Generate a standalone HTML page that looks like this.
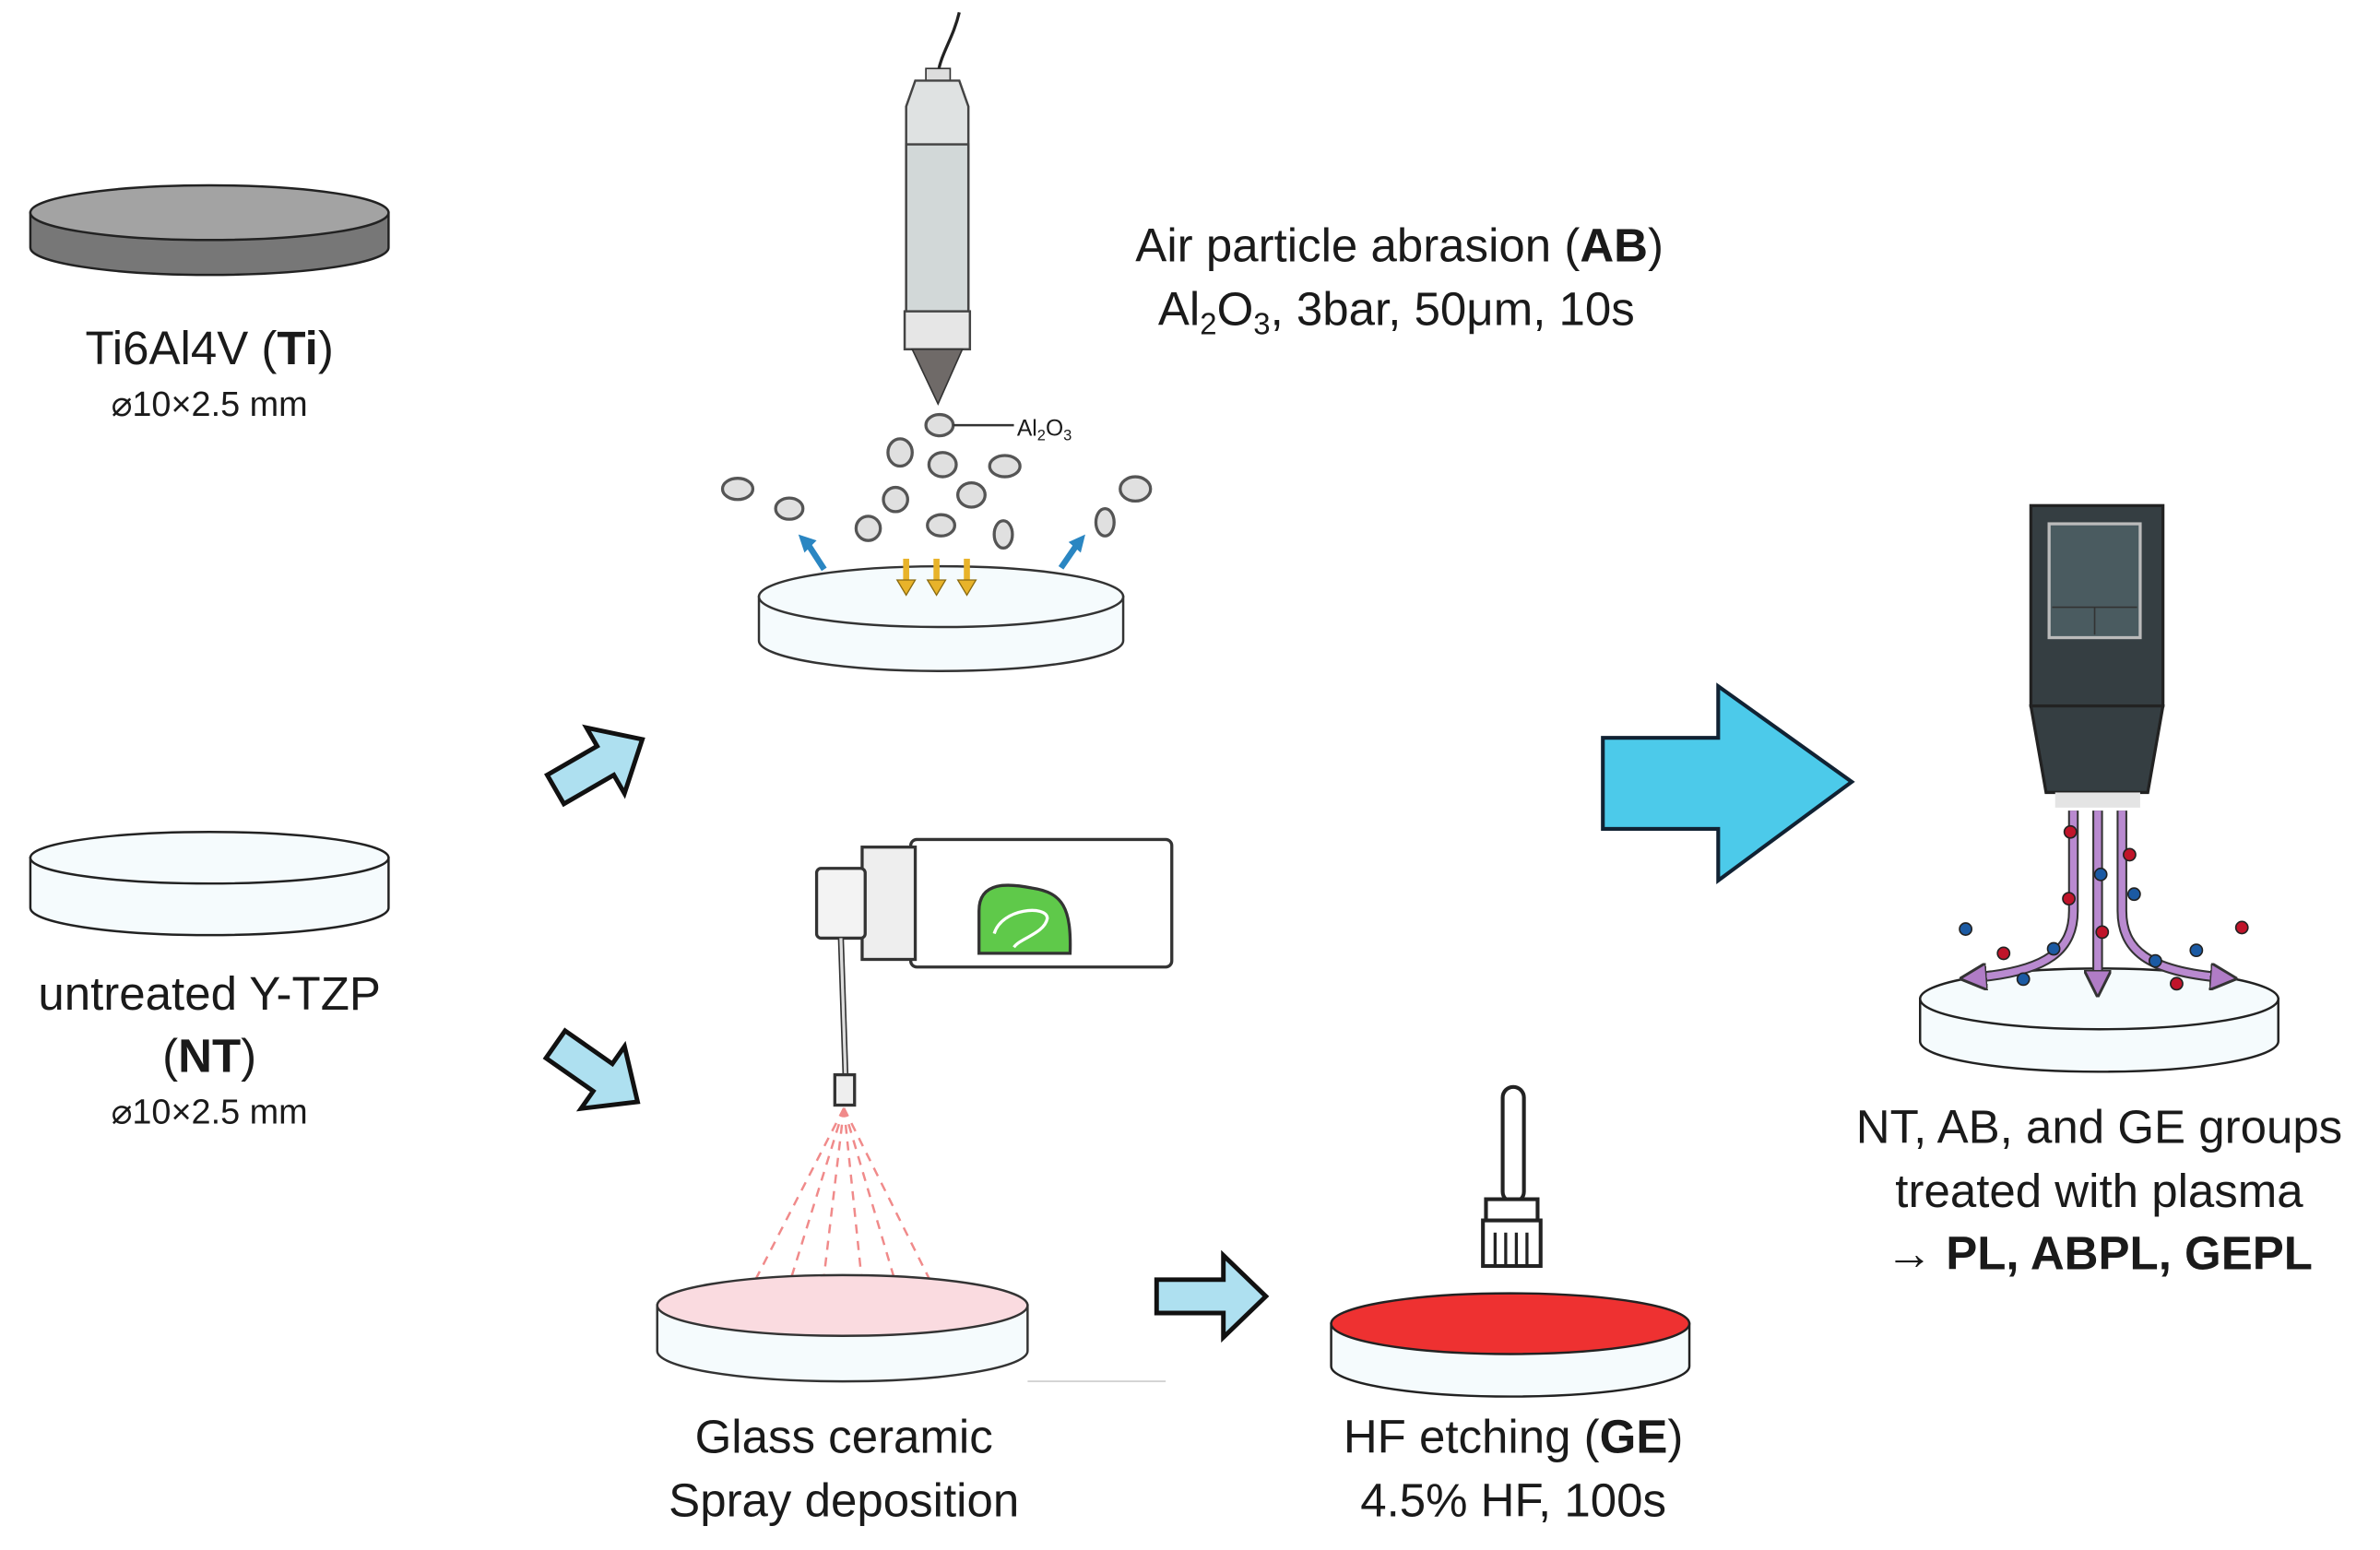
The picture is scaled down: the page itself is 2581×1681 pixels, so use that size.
<!DOCTYPE html>
<html><head><meta charset="utf-8"><style>
html,body{margin:0;padding:0;background:#fff;}
svg{display:block;}
text{font-family:"Liberation Sans","DejaVu Sans",sans-serif;fill:#1a1a1a;}
</style></head><body>
<svg width="2581" height="1681" viewBox="0 0 1568 1021" xmlns="http://www.w3.org/2000/svg">
<defs>
<marker id="ah" viewBox="0 0 10 10" refX="5" refY="5" markerWidth="4" markerHeight="4" orient="auto"><path d="M0,0 L10,5 L0,10 z" fill="#b07cc6" stroke="#333" stroke-width="1"/></marker>
</defs>
<!-- Ti disk -->
<path d="M20,140 L20,163 A118,18 0 0 0 256,163 L256,140 Z" fill="#777" stroke="#222" stroke-width="1.5"/>
<ellipse cx="138" cy="140" rx="118" ry="18" fill="#a3a3a3" stroke="#222" stroke-width="1.5"/>
<text x="138" y="240" font-size="31" text-anchor="middle">Ti6Al4V (<tspan font-weight="bold">Ti</tspan>)</text>
<text x="138" y="274" font-size="23" text-anchor="middle">⌀10×2.5 mm</text>
<!-- NT disk -->
<path d="M20,565 L20,598 A118,18 0 0 0 256,598 L256,565 Z" fill="#f5fbfd" stroke="#222" stroke-width="1.5"/>
<ellipse cx="138" cy="565" rx="118" ry="17" fill="#f5fbfd" stroke="#222" stroke-width="1.5"/>
<text x="138" y="665" font-size="31" text-anchor="middle">untreated Y-TZP</text>
<text x="138" y="706" font-size="31" text-anchor="middle">(<tspan font-weight="bold">NT</tspan>)</text>
<text x="138" y="740" font-size="23" text-anchor="middle">⌀10×2.5 mm</text>
<!-- small arrows -->
<g fill="#aee0f0" stroke="#111" stroke-width="3" stroke-linejoin="miter">
<path d="M0,-11 L38,-11 L38,-25 L66,0 L38,25 L38,11 L0,11 Z" transform="translate(366,520) rotate(-30)"/>
<path d="M0,-11 L38,-11 L38,-25 L66,0 L38,25 L38,11 L0,11 Z" transform="translate(366,688) rotate(35)"/>
<path d="M0,-11 L44,-11 L44,-27 L72,0 L44,27 L44,11 L0,11 Z" transform="translate(762,854)"/>
</g>
<!-- big arrow -->
<path d="M1056,486 L1132,486 L1132,452 L1220,515 L1132,580 L1132,546 L1056,546 Z" fill="#4ccaea" stroke="#123" stroke-width="2.5"/>
<!-- AB pen -->
<path d="M632,8 C628,25 620,35 618,48" fill="none" stroke="#222" stroke-width="2"/>
<rect x="610" y="45" width="16" height="8" fill="#ddd" stroke="#333"/>
<path d="M603,53 L632,53 L638,70 L638,210 L597,210 L597,70 Z" fill="#dfe2e2" stroke="#444" stroke-width="1.5"/>
<rect x="597" y="95" width="41" height="112" fill="#d2d8d8" stroke="#444" stroke-width="1.5"/>
<rect x="596" y="205" width="43" height="25" fill="#e6e6e6" stroke="#444" stroke-width="1.5"/>
<path d="M601,230 L634,230 L618,266 Z" fill="#6f6a68" stroke="#333"/>
<path d="M500,393 L500,422 A120,20 0 0 0 740,422 L740,393 Z" fill="#f5fbfd" stroke="#333" stroke-width="1.5"/>
<ellipse cx="620" cy="393" rx="120" ry="20" fill="#f5fbfd" stroke="#333" stroke-width="1.5"/>
<g fill="#e0e0e0" stroke="#555" stroke-width="2">
<ellipse cx="619" cy="280" rx="9" ry="7"/>
<ellipse cx="593" cy="298" rx="8" ry="9"/><ellipse cx="621" cy="306" rx="9" ry="8"/><ellipse cx="662" cy="307" rx="10" ry="7"/>
<ellipse cx="486" cy="322" rx="10" ry="7"/><ellipse cx="520" cy="335" rx="9" ry="7"/><ellipse cx="590" cy="329" rx="8" ry="8"/>
<ellipse cx="640" cy="326" rx="9" ry="8"/><ellipse cx="572" cy="348" rx="8" ry="8"/><ellipse cx="620" cy="346" rx="9" ry="7"/>
<ellipse cx="661" cy="352" rx="6" ry="9"/><ellipse cx="748" cy="322" rx="10" ry="8"/><ellipse cx="728" cy="344" rx="6" ry="9"/>
</g>
<line x1="628" y1="280" x2="668" y2="280" stroke="#333" stroke-width="1.5"/>
<text x="670" y="287" font-size="15">Al<tspan font-size="10" dy="3">2</tspan><tspan dy="-3">O</tspan><tspan font-size="10" dy="3">3</tspan></text>
<g stroke="#2a86c2" stroke-width="4"><line x1="543" y1="375" x2="532" y2="358"/><line x1="699" y1="374" x2="710" y2="358"/></g>
<g fill="#2a86c2"><path d="M526,352 L538,356 L530,364 Z"/><path d="M715,352 L712,364 L704,357 Z"/></g>
<g stroke="#e8b32a" stroke-width="4"><line x1="597" y1="368" x2="597" y2="384"/><line x1="617" y1="368" x2="617" y2="384"/><line x1="637" y1="368" x2="637" y2="384"/></g>
<g fill="#e8b32a" stroke="#8a6a10" stroke-width="0.8"><path d="M591,382 L603,382 L597,392 Z"/><path d="M611,382 L623,382 L617,392 Z"/><path d="M631,382 L643,382 L637,392 Z"/></g>
<text x="922" y="172" font-size="31" text-anchor="middle">Air particle abrasion (<tspan font-weight="bold">AB</tspan>)</text>
<text x="920" y="214" font-size="31" text-anchor="middle">Al<tspan font-size="20" dy="6">2</tspan><tspan dy="-6">O</tspan><tspan font-size="20" dy="6">3</tspan><tspan dy="-6">, 3bar, 50μm, 10s</tspan></text>
<!-- spray can -->
<rect x="600" y="553" width="172" height="84" rx="4" fill="#fff" stroke="#333" stroke-width="2"/>
<rect x="568" y="558" width="35" height="74" fill="#eee" stroke="#333" stroke-width="2"/>
<rect x="538" y="572" width="32" height="46" rx="3" fill="#f3f3f3" stroke="#333" stroke-width="2"/>
<path d="M645,600 C645,580 665,582 680,585 C700,588 706,598 705,628 L645,628 Z" fill="#5fc94a" stroke="#333" stroke-width="2"/>
<path d="M655,615 C660,598 690,596 690,605 C688,615 672,618 668,624" fill="none" stroke="#fff" stroke-width="2"/>
<line x1="554" y1="618" x2="557" y2="708" stroke="#333" stroke-width="4"/>
<line x1="554" y1="618" x2="557" y2="708" stroke="#ddd" stroke-width="2"/>
<rect x="550" y="708" width="13" height="20" fill="#eee" stroke="#333" stroke-width="2"/>
<g stroke="#f08a8a" stroke-width="1.5" stroke-dasharray="6,5" fill="none">
<line x1="556" y1="730" x2="490" y2="858"/><line x1="556" y1="730" x2="515" y2="862"/><line x1="556" y1="730" x2="540" y2="865"/>
<line x1="556" y1="730" x2="570" y2="865"/><line x1="556" y1="730" x2="595" y2="862"/><line x1="556" y1="730" x2="620" y2="858"/>
</g>
<path d="M433,860 L433,890 A122,20 0 0 0 677,890 L677,860 Z" fill="#f5fbfd" stroke="#333" stroke-width="1.5"/>
<ellipse cx="555" cy="860" rx="122" ry="20" fill="#fadbe0" stroke="#333" stroke-width="1.5"/>
<line x1="677" y1="910" x2="768" y2="910" stroke="#ccc" stroke-width="1"/>
<text x="556" y="957" font-size="31" text-anchor="middle">Glass ceramic</text>
<text x="556" y="999" font-size="31" text-anchor="middle">Spray deposition</text>
<!-- brush -->
<rect x="990" y="716" width="14" height="76" rx="7" fill="#fff" stroke="#222" stroke-width="2.5"/>
<rect x="979" y="790" width="34" height="14" fill="#fff" stroke="#222" stroke-width="2.5"/>
<path d="M977,804 L1015,804 L1015,834 L977,834 Z" fill="#fff" stroke="#222" stroke-width="2.5"/>
<g stroke="#222" stroke-width="2"><line x1="985" y1="812" x2="985" y2="834"/><line x1="992" y1="812" x2="992" y2="834"/><line x1="999" y1="812" x2="999" y2="834"/><line x1="1006" y1="812" x2="1006" y2="834"/></g>
<path d="M877,872 L877,900 A118,20 0 0 0 1113,900 L1113,872 Z" fill="#f5fbfd" stroke="#222" stroke-width="1.5"/>
<ellipse cx="995" cy="872" rx="118" ry="20" fill="#ee3131" stroke="#222" stroke-width="1.5"/>
<text x="997" y="957" font-size="31" text-anchor="middle">HF etching (<tspan font-weight="bold">GE</tspan>)</text>
<text x="997" y="999" font-size="31" text-anchor="middle">4.5% HF, 100s</text>
<!-- plasma device -->
<rect x="1338" y="333" width="87" height="132" fill="#353e42" stroke="#222" stroke-width="2"/>
<rect x="1350" y="345" width="60" height="75" fill="#4a5b60" stroke="#bbb" stroke-width="2"/>
<line x1="1352" y1="400" x2="1408" y2="400" stroke="#333"/><line x1="1380" y1="400" x2="1380" y2="418" stroke="#333"/>
<path d="M1338,465 L1425,465 L1415,522 L1348,522 Z" fill="#353e42" stroke="#222" stroke-width="2"/>
<rect x="1354" y="522" width="56" height="10" fill="#e4e4e4"/>
<path d="M1265,658 L1265,686 A118,20 0 0 0 1501,686 L1501,658 Z" fill="#f5fbfd" stroke="#222" stroke-width="1.5"/>
<ellipse cx="1383" cy="658" rx="118" ry="20" fill="#f5fbfd" stroke="#222" stroke-width="1.5"/>
<g fill="none" stroke="#333" stroke-width="7">
<path d="M1366,534 L1366,600 C1366,625 1350,640 1300,644"/><path d="M1382,534 L1382,648"/><path d="M1398,534 L1398,600 C1398,625 1414,640 1465,644"/>
</g>
<g fill="none" stroke="#b98ad0" stroke-width="4.5" marker-end="url(#ah)">
<path d="M1366,534 L1366,600 C1366,625 1350,640 1300,644"/><path d="M1382,534 L1382,648"/><path d="M1398,534 L1398,600 C1398,625 1414,640 1465,644"/>
</g>
<g fill="#c0142a" stroke="#222" stroke-width="1"><circle cx="1364" cy="548" r="4"/><circle cx="1363" cy="592" r="4"/><circle cx="1320" cy="628" r="4"/><circle cx="1385" cy="614" r="4"/><circle cx="1403" cy="563" r="4"/><circle cx="1434" cy="648" r="4"/><circle cx="1477" cy="611" r="4"/></g>
<g fill="#1b5aa3" stroke="#222" stroke-width="1"><circle cx="1384" cy="576" r="4"/><circle cx="1295" cy="612" r="4"/><circle cx="1353" cy="625" r="4"/><circle cx="1333" cy="645" r="4"/><circle cx="1406" cy="589" r="4"/><circle cx="1420" cy="633" r="4"/><circle cx="1447" cy="626" r="4"/></g>
<text x="1383" y="753" font-size="31" text-anchor="middle">NT, AB, and GE groups</text>
<text x="1383" y="795" font-size="31" text-anchor="middle">treated with plasma</text>
<text x="1383" y="836" font-size="31" text-anchor="middle">→ <tspan font-weight="bold">PL, ABPL, GEPL</tspan></text>
</svg>
</body></html>
